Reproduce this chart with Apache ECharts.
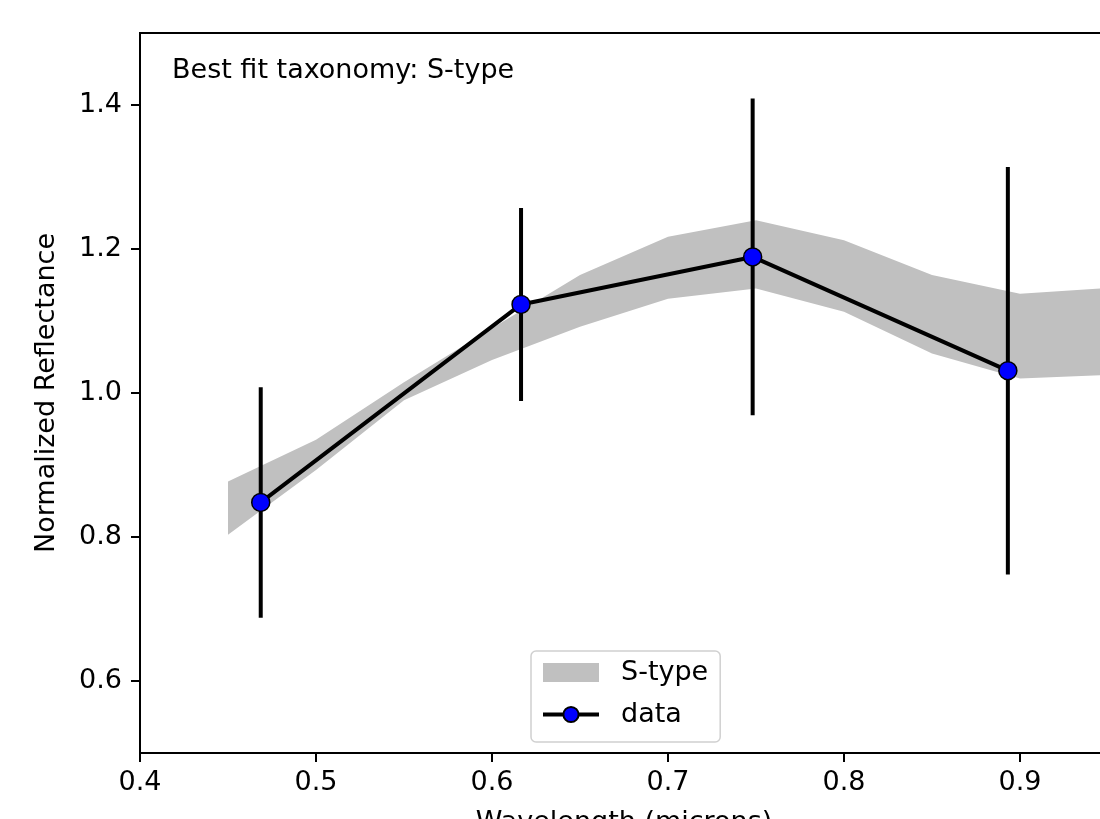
<!DOCTYPE html>
<html>
<head>
<meta charset="utf-8">
<script src="https://cdn.jsdelivr.net/npm/echarts@6/dist/echarts.min.js"></script>
<style>
html,body{margin:0;padding:0;background:#fff;}
#chart{width:1100px;height:819px;}
</style>
</head>
<body>
<div id="chart"></div>
<script>
// ---- data ----
const bandWavelength = [0.45, 0.50, 0.55, 0.60, 0.65, 0.70, 0.75, 0.80, 0.85, 0.90, 0.95];
const bandUpper      = [0.877, 0.935, 1.015, 1.090, 1.164, 1.217, 1.240, 1.212, 1.164, 1.138, 1.146];
const bandLower      = [0.803, 0.893, 0.990, 1.046, 1.092, 1.131, 1.145, 1.113, 1.055, 1.020, 1.025];

const dataWavelength  = [0.4686, 0.6165, 0.7481, 0.8931];
const dataReflectance = [0.848, 1.123, 1.189, 1.031];
const dataError       = [0.160, 0.134, 0.220, 0.283];

const xTicks = [0.4, 0.5, 0.6, 0.7, 0.8, 0.9];
const yTicks = [0.6, 0.8, 1.0, 1.2, 1.4];

const titleText = 'Best fit taxonomy: S-type';
const bandName = 'S-type';
const dataName = 'data';
const xName = 'Wavelength (microns)';
const yName = 'Normalized Reflectance';

// ---- chart ----
const FONT = 'DejaVu Sans';
const FS = 27;
const chart = echarts.init(document.getElementById('chart'), null, {renderer: 'canvas'});

const bandPoints = bandWavelength.map((w, i) => [w, bandLower[i], bandUpper[i]]);
const errPoints = dataWavelength.map((w, i) => [w, dataReflectance[i], dataError[i]]);
const linePoints = dataWavelength.map((w, i) => [w, dataReflectance[i]]);

const option = {
  animation: false,
  backgroundColor: '#ffffff',
  textStyle: {fontFamily: FONT},
  title: {
    text: titleText,
    left: 167,
    top: 52,
    padding: 5,
    textStyle: {fontFamily: FONT, fontSize: FS, fontWeight: 'normal', color: '#000'}
  },
  grid: {
    left: 140, width: 968, top: 33, height: 720,
    outerBoundsMode: 'none',
    show: true, borderColor: '#000', borderWidth: 2, backgroundColor: 'transparent',
    containLabel: false
  },
  legend: {
    orient: 'vertical',
    left: 531, top: 651,
    padding: [8, 12, 14, 10],
    itemGap: 15,
    itemWidth: 56,
    itemHeight: 19,
    borderColor: '#d0d0d0', borderWidth: 1.5, borderRadius: 5,
    backgroundColor: 'rgba(255,255,255,0.8)',
    textStyle: {fontFamily: FONT, fontSize: FS, color: '#000', lineHeight: 26, padding: [0, 0, 0, 17]},
    data: [
      {name: bandName, icon: 'rect', itemStyle: {color: '#c0c0c0'}},
      {name: dataName, lineStyle: {width: 4, color: '#000'}}
    ]
  },
  xAxis: {
    type: 'value', min: 0.4, max: 0.95,
    name: xName, nameLocation: 'middle', nameGap: 56,
    nameTextStyle: {fontFamily: FONT, fontSize: FS, color: '#000'},
    axisLine: {show: true, onZero: false, lineStyle: {color: '#000', width: 2}},
    axisTick: {show: true, length: 9, lineStyle: {color: '#000', width: 2}, customValues: xTicks},
    axisLabel: {fontFamily: FONT, fontSize: FS, color: '#000', margin: 16,
      customValues: xTicks, formatter: v => v.toFixed(1)},
    splitLine: {show: false}
  },
  yAxis: {
    type: 'value', min: 0.5, max: 1.5,
    name: yName, nameLocation: 'middle', nameGap: 80, nameRotate: 90,
    nameTextStyle: {fontFamily: FONT, fontSize: FS, color: '#000'},
    axisLine: {show: true, onZero: false, lineStyle: {color: '#000', width: 2}},
    axisTick: {show: true, length: 9, lineStyle: {color: '#000', width: 2}, customValues: yTicks},
    axisLabel: {fontFamily: FONT, fontSize: FS, color: '#000', margin: 18,
      customValues: yTicks, formatter: v => v.toFixed(1)},
    splitLine: {show: false}
  },
  series: [
    {
      name: bandName,
      type: 'custom',
      z: 1,
      itemStyle: {color: '#c0c0c0'},
      data: bandPoints,
      encode: {x: 0, y: [1, 2]},
      renderItem: function (params, api) {
        if (params.dataIndex !== 0) return null;
        const upper = bandPoints.map(p => api.coord([p[0], p[2]]));
        const lower = bandPoints.slice().reverse().map(p => api.coord([p[0], p[1]]));
        return {
          type: 'polygon',
          shape: {points: upper.concat(lower)},
          style: {fill: '#c0c0c0', stroke: null}
        };
      },
      clip: true,
      silent: true
    },
    {
      name: dataName + '_err',
      type: 'custom',
      z: 2,
      data: errPoints,
      encode: {x: 0, y: 1},
      renderItem: function (params, api) {
        const x = api.value(0), y = api.value(1), e = api.value(2);
        const p1 = api.coord([x, y - e]);
        const p2 = api.coord([x, y + e]);
        return {
          type: 'line',
          shape: {x1: p1[0], y1: p1[1], x2: p2[0], y2: p2[1]},
          style: {stroke: '#000', lineWidth: 4}
        };
      },
      silent: true
    },
    {
      name: dataName,
      type: 'line',
      z: 3,
      data: linePoints,
      symbol: 'circle',
      symbolSize: 18,
      showAllSymbol: true,
      lineStyle: {color: '#000', width: 4},
      itemStyle: {color: '#0000ff', borderColor: '#000', borderWidth: 1.5},
      silent: true
    }
  ]
};
chart.setOption(option);
</script>
</body>
</html>
